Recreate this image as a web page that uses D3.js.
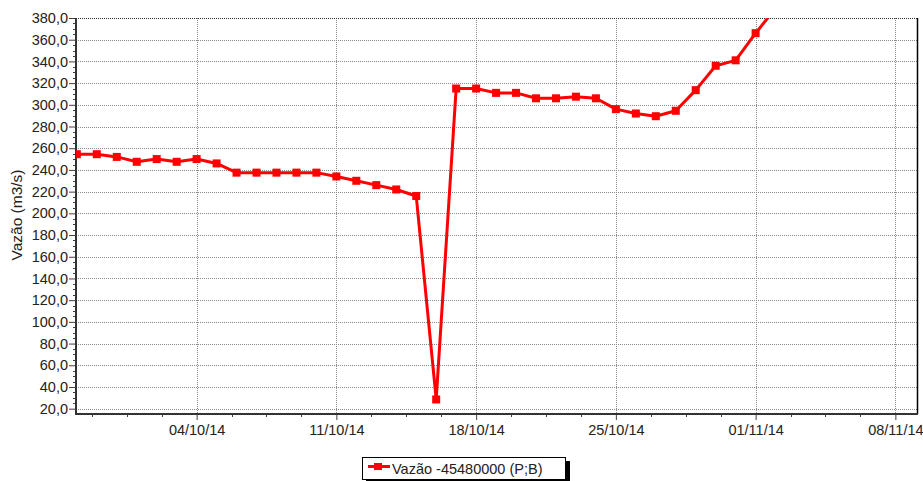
<!DOCTYPE html>
<html>
<head>
<meta charset="utf-8">
<script src="https://cdn.jsdelivr.net/npm/d3@7"></script>
<style>
  body { margin: 0; background: #fff; }
  svg text { font-family: "Liberation Sans", Arial, sans-serif; }
</style>
</head>
<body>
<div id="chart"></div>
<script>
// daily flow readings (dd/mm/yyyy)
var dates = ['28/09/2014','29/09/2014','30/09/2014','01/10/2014','02/10/2014','03/10/2014',
  '04/10/2014','05/10/2014','06/10/2014','07/10/2014','08/10/2014','09/10/2014','10/10/2014',
  '11/10/2014','12/10/2014','13/10/2014','14/10/2014','15/10/2014','16/10/2014','17/10/2014',
  '18/10/2014','19/10/2014','20/10/2014','21/10/2014','22/10/2014','23/10/2014','24/10/2014',
  '25/10/2014','26/10/2014','27/10/2014','28/10/2014','29/10/2014','30/10/2014','31/10/2014',
  '01/11/2014','02/11/2014'];
var vazao = [254.5, 254.5, 252, 247.5, 250, 247.5,
  250, 246, 237.5, 237.5, 237.5, 237.5, 237.5,
  234, 230, 226, 222, 216, 28.5, 315,
  315, 311, 311, 306, 306, 307.5, 306,
  296, 292, 289.5, 294.5, 313.5, 336, 341,
  366, 389];
var xTickDates = ['04/10/2014','11/10/2014','18/10/2014','25/10/2014','01/11/2014','08/11/2014'];
var yTicks = [20,40,60,80,100,120,140,160,180,200,220,240,260,280,300,320,340,360,380];
var seriesName = 'Vazão -45480000 (P;B)';
var yTitle = 'Vazão (m3/s)';

var parse = d3.utcParse('%d/%m/%Y');
var data = dates.map(function(d, i) { return {date: parse(d), value: vazao[i]}; });

var width = 923, height = 481;
var plotL = 76, plotR = 917, plotT = 18, plotB = 414;

var svg = d3.select('#chart').append('svg')
  .attr('width', width)
  .attr('height', height);

var xScale = d3.scaleUtc()
  .domain([new Date(Date.UTC(2014, 8, 27, 23)), new Date(Date.UTC(2014, 10, 9, 2))])
  .range([plotL, plotR]);
var yScale = d3.scaleLinear().domain([15.1, 380]).range([plotB, plotT]);

var majorX = xTickDates.map(function(d) { return parse(d); });
// minor ticks every 1.75 days around the weekly ticks
var minorX = [];
var step = 42 * 3600 * 1000;
for (var t = majorX[0].getTime() - 4 * step; t <= xScale.domain()[1].getTime(); t += step) {
  if (t >= xScale.domain()[0].getTime() && (Math.round((t - majorX[0].getTime()) / step) % 4 !== 0)) minorX.push(new Date(t));
}
var minorY = d3.range(20, 381, 5).filter(function(v) { return v % 20 !== 0; });

// grid
svg.append('g').selectAll('line')
  .data(yTicks.slice(0, -1))
  .enter().append('line')
  .attr('x1', plotL).attr('x2', plotR)
  .attr('y1', function(d) { return Math.round(yScale(d)) + 0.5; })
  .attr('y2', function(d) { return Math.round(yScale(d)) + 0.5; })
  .attr('stroke', '#8a8a8a')
  .attr('stroke-dasharray', '1,1');
svg.append('g').selectAll('line')
  .data(majorX)
  .enter().append('line')
  .attr('y1', plotT).attr('y2', plotB)
  .attr('x1', function(d) { return Math.round(xScale(d)) + 0.5; })
  .attr('x2', function(d) { return Math.round(xScale(d)) + 0.5; })
  .attr('stroke', '#8a8a8a')
  .attr('stroke-dasharray', '1,1');

// frame: dotted top, solid right
svg.append('line')
  .attr('x1', plotL).attr('x2', plotR).attr('y1', plotT + 0.5).attr('y2', plotT + 0.5)
  .attr('stroke', '#303030').attr('stroke-dasharray', '1,1');
svg.append('line')
  .attr('x1', plotR + 0.5).attr('x2', plotR + 0.5).attr('y1', plotT).attr('y2', plotB)
  .attr('stroke', '#000').attr('stroke-width', 1.5);

// y axis
var yAxis = d3.axisLeft(yScale)
  .tickValues(yTicks)
  .tickSize(7)
  .tickPadding(1)
  .tickFormat(function(d) { return d3.format('.1f')(d).replace('.', ','); });
var gy = svg.append('g').attr('transform', 'translate(' + plotL + ',0)').call(yAxis);
gy.select('.domain').remove();
gy.selectAll('.tick line').attr('stroke', '#404040');
gy.selectAll('.tick text').attr('font-size', 14.5).attr('fill', '#222');
gy.selectAll('.minor')
  .data(minorY)
  .enter().append('line')
  .attr('class', 'minor')
  .attr('x1', -3).attr('x2', 0)
  .attr('y1', function(d) { return Math.round(yScale(d)) + 0.5; })
  .attr('y2', function(d) { return Math.round(yScale(d)) + 0.5; })
  .attr('stroke', '#404040');

// x axis
var xAxis = d3.axisBottom(xScale)
  .tickValues(majorX)
  .tickSize(6)
  .tickPadding(5)
  .tickFormat(d3.utcFormat('%d/%m/%y'));
var gx = svg.append('g').attr('transform', 'translate(0,' + plotB + ')').call(xAxis);
gx.select('.domain').remove();
gx.selectAll('.tick line').attr('stroke', '#404040');
gx.selectAll('.tick text').attr('font-size', 14.5).attr('fill', '#222');
gx.selectAll('.minor')
  .data(minorX)
  .enter().append('line')
  .attr('class', 'minor')
  .attr('x1', function(d) { return Math.round(xScale(d)) + 0.5; })
  .attr('x2', function(d) { return Math.round(xScale(d)) + 0.5; })
  .attr('y1', 0).attr('y2', 3)
  .attr('stroke', '#404040');

// axis lines
svg.append('line')
  .attr('x1', plotL).attr('x2', plotL).attr('y1', plotT).attr('y2', plotB + 1)
  .attr('stroke', '#333').attr('stroke-width', 2);
svg.append('line')
  .attr('x1', plotL - 1).attr('x2', plotR + 1).attr('y1', plotB).attr('y2', plotB)
  .attr('stroke', '#333').attr('stroke-width', 2);

// y title
svg.append('text')
  .attr('transform', 'translate(22,215) rotate(-90)')
  .attr('text-anchor', 'middle')
  .attr('font-size', 15.5)
  .attr('fill', '#222')
  .text(yTitle);

// series
svg.append('clipPath').attr('id', 'plot-clip')
  .append('rect')
  .attr('x', plotL).attr('y', plotT).attr('width', plotR - plotL).attr('height', plotB - plotT);

var plot = svg.append('g').attr('clip-path', 'url(#plot-clip)');
var line = d3.line()
  .x(function(d) { return xScale(d.date); })
  .y(function(d) { return yScale(d.value); });

plot.append('path')
  .datum(data)
  .attr('d', line)
  .attr('fill', 'none')
  .attr('stroke', '#ff0000')
  .attr('stroke-width', 3)
  .attr('stroke-linejoin', 'round');

plot.selectAll('rect.pt')
  .data(data)
  .enter().append('rect')
  .attr('class', 'pt')
  .attr('x', function(d) { return xScale(d.date) - 4; })
  .attr('y', function(d) { return yScale(d.value) - 4; })
  .attr('width', 8)
  .attr('height', 8)
  .attr('fill', '#ff0000');

// legend
var lg = svg.append('g');
lg.append('rect').attr('x', 366).attr('y', 461).attr('width', 204).attr('height', 22).attr('fill', '#000');
lg.append('rect').attr('x', 362.5).attr('y', 457.5).attr('width', 203).attr('height', 22)
  .attr('fill', '#fff').attr('stroke', '#000');
lg.append('line').attr('x1', 368).attr('x2', 390).attr('y1', 466.5).attr('y2', 466.5)
  .attr('stroke', '#ff0000').attr('stroke-width', 3);
lg.append('rect').attr('x', 374).attr('y', 463).attr('width', 8).attr('height', 7).attr('fill', '#ff0000');
lg.append('text').attr('x', 392).attr('y', 474).attr('font-size', 14.5).attr('fill', '#222')
  .text(seriesName);
</script>
</body>
</html>
